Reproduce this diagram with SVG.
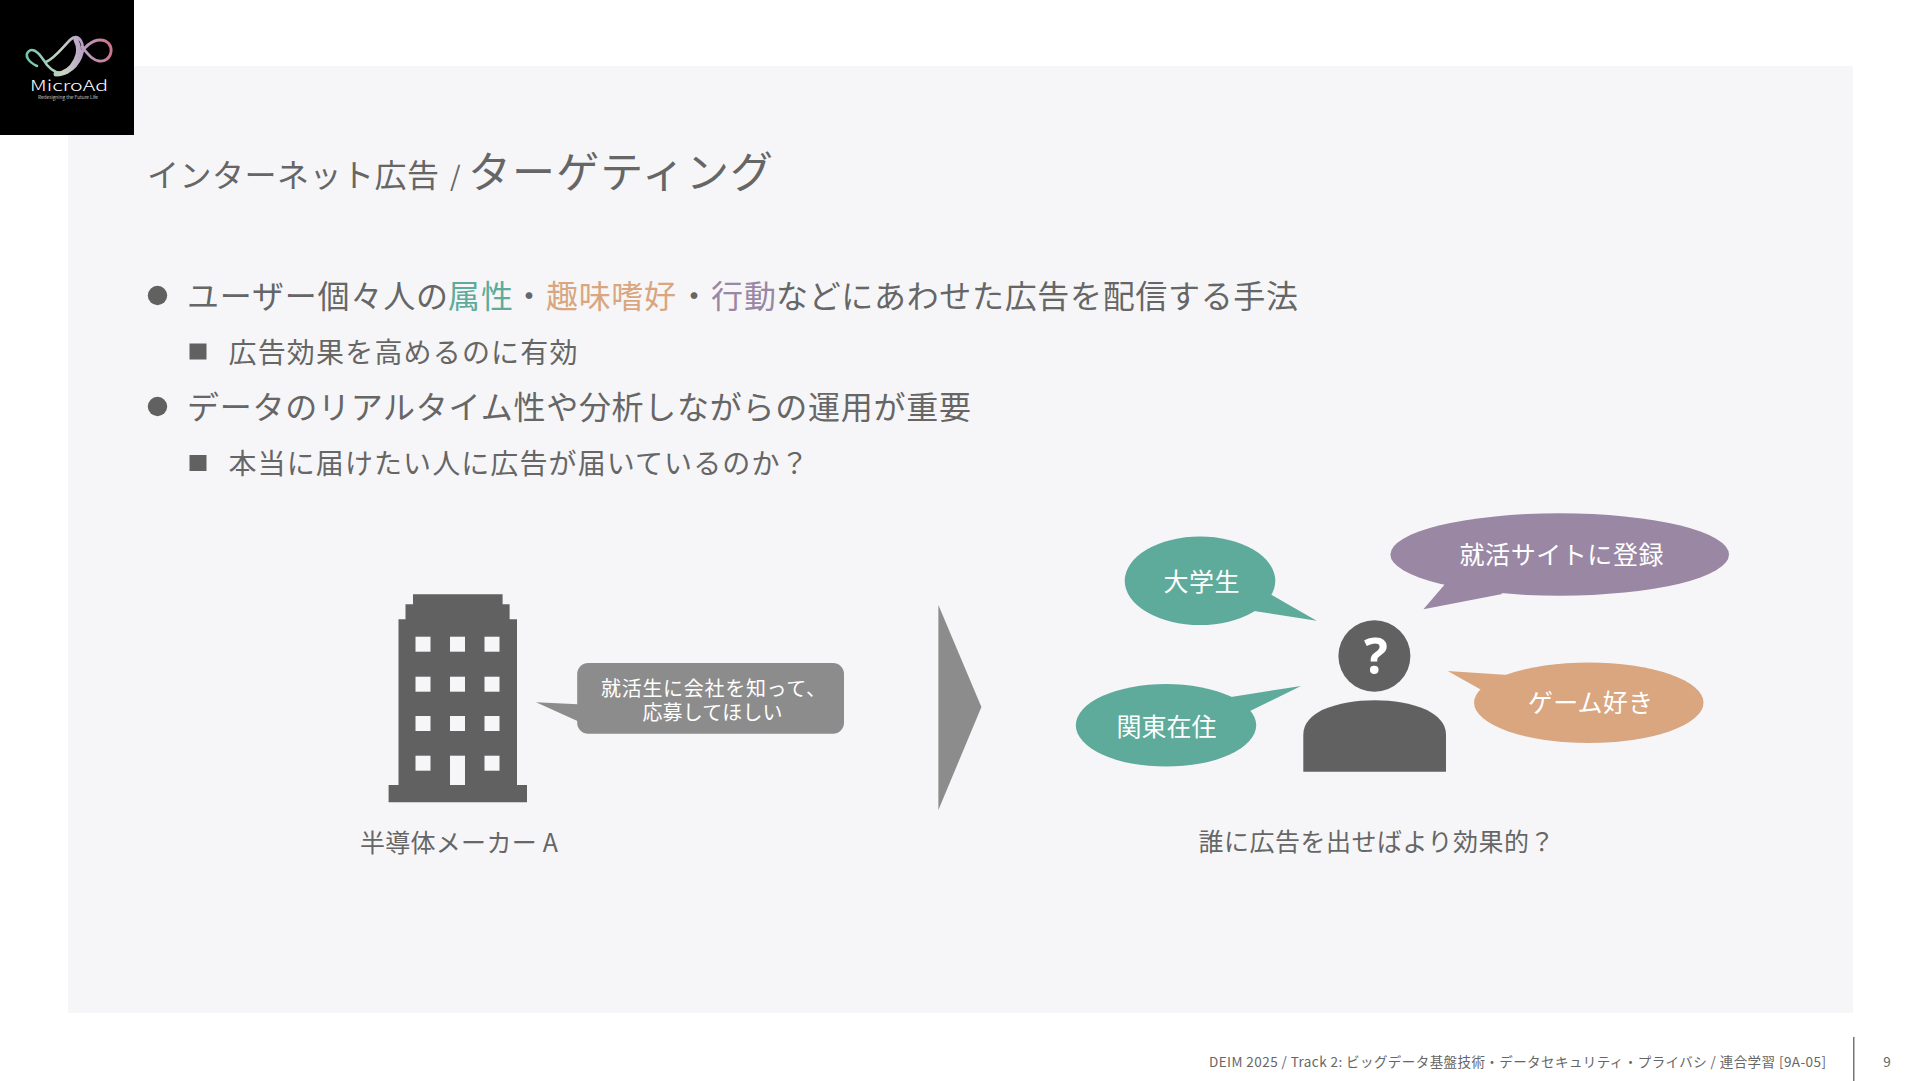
<svg xmlns="http://www.w3.org/2000/svg" width="1920" height="1081" viewBox="0 0 1920 1081">
<defs>
<linearGradient id="lg" gradientUnits="userSpaceOnUse" x1="26" y1="60" x2="112" y2="45">
<stop offset="0" stop-color="#6fc4ac"/><stop offset="0.4" stop-color="#c9d4c4"/><stop offset="0.65" stop-color="#b9a3c6"/><stop offset="1" stop-color="#d0708c"/>
</linearGradient>
</defs>
<style>
text{font-family:"Noto Sans CJK JP","Noto Sans",sans-serif;font-weight:400;fill:#666}
.w{fill:#fff}
.thin{font-weight:300}
.c{text-anchor:middle}
.dark{fill:#616161}
.win{fill:#f6f6f8}
.grey{fill:#8c8c8c}
.teal{fill:#5eab9b}
.org{fill:#d9a680}
.pur{fill:#9a87a3}
.big{font-size:32px}
.sub{font-size:28px}
.lab{font-size:25px}
</style>
<rect width="1920" height="1081" fill="#fff"/>
<rect x="68" y="66" width="1785" height="947" fill="#f6f6f8"/>
<g id="logo">
<rect width="134" height="135" fill="#000"/>
<g fill="none" stroke="url(#lg)" stroke-linecap="round">
<path d="M37 66C28 62 24 55 29 51C35 47 41 56 47 65C52 71 60 76 68 72C80 65 86 50 81 41C78 36 74 36 70 40C62 48 55 58 46 62" stroke-width="2.6"/>
<path d="M56 74C66 74 72 68 76 60C81 51 78 44 76 40" stroke-width="5"/>
<path d="M56 74C64 74 70 70 76 60C82 50 90 40 100 40C108 40 112 46 111 52C110 58 105 62 99 61C92 60 88 54 82 47" stroke-width="2.8"/>
</g>
<text class="w thin" x="69" y="91" text-anchor="middle" font-size="15" textLength="78" lengthAdjust="spacingAndGlyphs">MicroAd</text>
<text class="w thin" x="68" y="99" text-anchor="middle" font-size="5" textLength="60" lengthAdjust="spacingAndGlyphs">Redesigning the Future Life</text>
</g>
<g id="title">
<text x="147" y="187" font-size="32" textLength="292">インターネット広告</text>
<text x="450" y="186" font-size="27">/</text>
<text x="468" y="188" font-size="43" textLength="305">ターゲティング</text>
</g>
<g id="bullets">
<circle class="dark" cx="157.5" cy="295.5" r="9.7"/>
<text class="big" x="187" y="308" textLength="261">ユーザー個々人の</text>
<text class="big teal" x="448" y="308" textLength="65">属性</text>
<text class="big" x="513" y="308" textLength="33">・</text>
<text class="big org" x="546" y="308" textLength="130">趣味嗜好</text>
<text class="big" x="678" y="308" textLength="33">・</text>
<text class="big pur" x="711" y="308" textLength="65">行動</text>
<text class="big" x="776" y="308" textLength="522">などにあわせた広告を配信する手法</text>
<rect class="dark" x="189.5" y="343.5" width="17" height="16"/>
<text class="sub" x="228.5" y="362.5" textLength="349">広告効果を高めるのに有効</text>
<circle class="dark" cx="157.5" cy="406.5" r="9.7"/>
<text class="big" x="187" y="418.5" textLength="784">データのリアルタイム性や分析しながらの運用が重要</text>
<rect class="dark" x="189.5" y="455" width="17" height="16"/>
<text class="sub" x="228.5" y="473.5" textLength="580">本当に届けたい人に広告が届いているのか？</text>
</g>
<g id="building">
<path class="dark" d="M413 594.3H502.6V604.3H509.6V619.3H517V785H527V802.3H388.6V785H398.5V619.3H405.5V604.3H413Z"/>
<g class="win">
<rect x="415.5" y="636.7" width="15" height="15"/><rect x="450" y="636.7" width="15" height="15"/><rect x="484.5" y="636.7" width="15" height="15"/>
<rect x="415.5" y="676.7" width="15" height="15"/><rect x="450" y="676.7" width="15" height="15"/><rect x="484.5" y="676.7" width="15" height="15"/>
<rect x="415.5" y="716" width="15" height="15"/><rect x="450" y="716" width="15" height="15"/><rect x="484.5" y="716" width="15" height="15"/>
<rect x="415.5" y="755.7" width="15" height="15"/><rect x="450" y="755.7" width="15" height="29.3"/><rect x="484.5" y="755.7" width="15" height="15"/>
</g>
<text class="lab" x="360" y="852" textLength="198">半導体メーカー A</text>
</g>
<g id="company-callout">
<rect class="grey" x="577.2" y="663" width="266.8" height="70.7" rx="11"/>
<polygon class="grey" points="536,702.3 578,704.3 578,721.3"/>
<text class="w" x="601" y="695.5" font-size="20" textLength="225">就活生に会社を知って、</text>
<text class="w c" x="712.5" y="719.5" font-size="20" textLength="140">応募してほしい</text>
</g>
<g id="connectors">
<polygon class="grey" points="938.4,605 981.4,707 938.4,810"/>
</g>
<g id="person">
<ellipse class="dark" cx="1374.4" cy="656" rx="36" ry="35.7"/>
<text class="w c" x="1376" y="674" font-size="50" style="font-family:'Open Sans',sans-serif;font-weight:700">?</text>
<path class="dark" d="M1303.3 771.7V735C1303.3 722 1312 716 1322 710C1340 703 1355 700.3 1374.7 700.3C1394 700.3 1410 703 1427 710C1437 716 1446 722 1446 735V771.7Z"/>
<text class="lab" x="1198.5" y="851" textLength="356">誰に広告を出せばより効果的？</text>
</g>
<g id="bubble-student">
<ellipse class="teal" cx="1200" cy="580.8" rx="75.3" ry="44.2"/>
<polygon class="teal" points="1316.7,620.7 1270,594 1240,600 1254,611"/>
<text class="w c lab" x="1201.5" y="590.5" textLength="76">大学生</text>
</g>
<g id="bubble-site">
<ellipse class="pur" cx="1559.7" cy="554.5" rx="169.3" ry="41.2"/>
<polygon class="pur" points="1423.4,609.3 1446,583 1480,570 1502.3,594"/>
<text class="w c lab" x="1561.5" y="564" textLength="204">就活サイトに登録</text>
</g>
<g id="bubble-kanto">
<ellipse class="teal" cx="1166" cy="725.3" rx="90.2" ry="41.3"/>
<polygon class="teal" points="1301,686 1231,697 1220,715 1250,711"/>
<text class="w c lab" x="1166.5" y="736" textLength="100">関東在住</text>
</g>
<g id="bubble-game">
<ellipse class="org" cx="1588.8" cy="702.7" rx="114.7" ry="40.3"/>
<polygon class="org" points="1447.7,671 1508,675 1520,695 1481.5,690"/>
<text class="w c lab" x="1590.5" y="712" textLength="125">ゲーム好き</text>
</g>
<g id="footer">
<text x="1209" y="1066.5" font-size="13.5" textLength="617">DEIM 2025 / Track 2: ビッグデータ基盤技術・データセキュリティ・プライバシ / 連合学習 [9A-05]</text>
<rect x="1853" y="1037" width="1.5" height="44" fill="#777"/>
<text class="c" x="1887" y="1066.5" font-size="13.5">9</text>
</g>
</svg>
